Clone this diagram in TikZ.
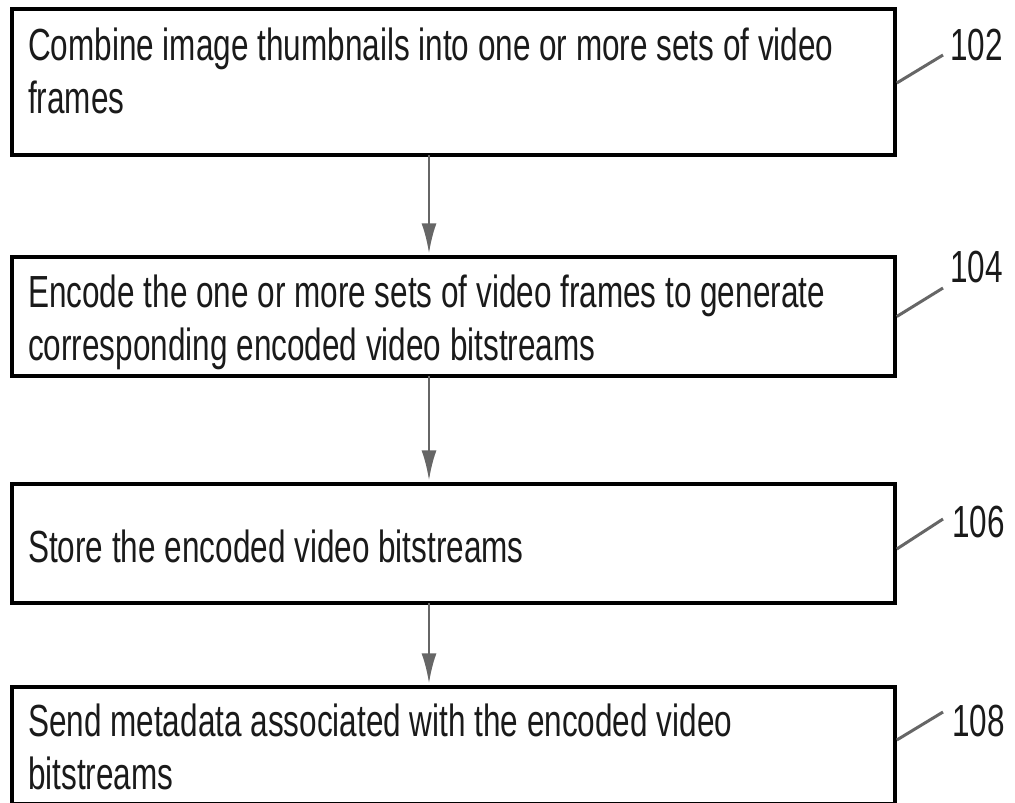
\documentclass[tikz,border=0pt]{standalone}
\usepackage{fontspec}
\setmainfont[FakeStretch=0.70]{Liberation Sans}
\usetikzlibrary{arrows.meta}
\definecolor{arrowgray}{HTML}{666666}
\definecolor{textblack}{HTML}{1A1A1A}
\begin{document}
\begin{tikzpicture}[x=1pt,y=-1pt,
  stepbox/.style={draw=black,line width=3.6pt,rectangle,inner sep=0pt},
  steptext/.style={anchor=base west,inner sep=0pt,align=left,text=textblack,
     font=\fontsize{45pt}{53pt}\selectfont},
  reflabel/.style={anchor=base west,inner sep=0pt,text=textblack,
     font=\fontsize{45pt}{53pt}\selectfont},
  leader/.style={draw=arrowgray,line width=3pt},
  flow/.style={draw=arrowgray,line width=2.6pt,-{Latex[length=30pt,width=15pt]}}]
\useasboundingbox (0,0) rectangle (1015,803);
% boxes
\node[stepbox,minimum width=883pt,minimum height=146pt] (b1) at (453.5,82) {};
\node[stepbox,minimum width=883pt,minimum height=119pt] (b2) at (453.5,316.5) {};
\node[stepbox,minimum width=883pt,minimum height=119pt] (b3) at (453.5,543.5) {};
\node[stepbox,minimum width=883pt,minimum height=117pt] (b4) at (453.5,745.5) {};
% texts (anchor = baseline of last line)
\node[steptext] (t1) at (28,113) {Combine image thumbnails into one or more sets of video\\frames};
\node[steptext] (t2) at (28,360) {Encode the one or more sets of video frames to generate\\corresponding encoded video bitstreams};
\node[steptext] (t3) at (28,562) {Store the encoded video bitstreams};
\node[steptext] (t4) at (28,789) {Send metadata associated with the encoded video\\bitstreams};
% reference labels
\node[reflabel] (l1) at (950,60) {102};
\node[reflabel] (l2) at (950,282) {104};
\node[reflabel] (l3) at (952,537) {106};
\node[reflabel] (l4) at (952,736) {108};
\coordinate (e1) at ([shift={(-7pt,5pt)}]l1.base west);
\coordinate (e2) at ([shift={(-7pt,-6pt)}]l2.base west);
\coordinate (e3) at ([shift={(-9pt,18pt)}]l3.base west);
\coordinate (e4) at ([shift={(-9pt,24pt)}]l4.base west);
\draw[leader] ([yshift=-1pt]b1.east) -- (e1);
\draw[leader] (b2.east) -- (e2);
\draw[leader] ([yshift=-5.5pt]b3.east) -- (e3);
\draw[leader] ([yshift=5.5pt]b4.east) -- (e4);
% flow arrows
\draw[flow] ([xshift=-24.5pt,yshift=1.8pt]b1.south) -- ([xshift=-24.5pt,yshift=1.8pt]b2.north);
\draw[flow] ([xshift=-24.5pt,yshift=1.8pt]b2.south) -- ([xshift=-24.5pt,yshift=1.8pt]b3.north);
\draw[flow] ([xshift=-24.5pt,yshift=1.8pt]b3.south) -- ([xshift=-24.5pt,yshift=1.8pt]b4.north);
\end{tikzpicture}
\end{document}
